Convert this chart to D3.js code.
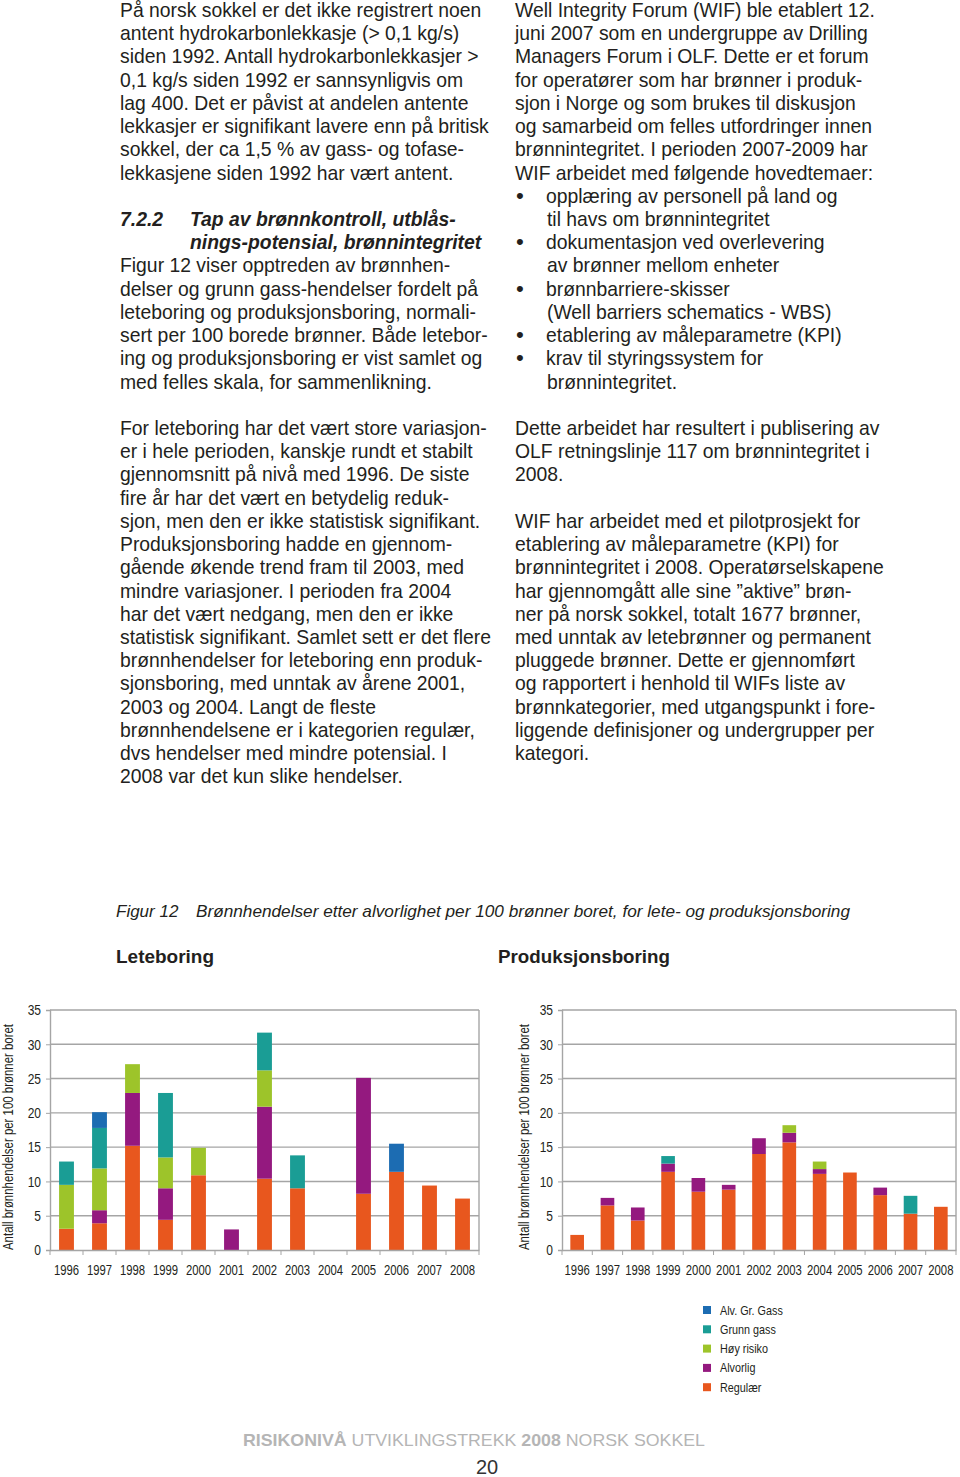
<!DOCTYPE html>
<html><head><meta charset="utf-8">
<script src="https://cdn.jsdelivr.net/npm/d3@7"></script>
<style>body{margin:0;background:#fff}svg{display:block}</style>
</head><body><svg id="page" width="960" height="1477"></svg>
<script>
// ---------------- DATA ----------------
const years = ["1996","1997","1998","1999","2000","2001","2002","2003","2004","2005","2006","2007","2008"];
const seriesNames = ["Regulær","Alvorlig","Høy risiko","Grunn gass","Alv. Gr. Gass"]; // stacking order bottom->top
const legendOrder = ["Alv. Gr. Gass","Grunn gass","Høy risiko","Alvorlig","Regulær"];
const seriesColors = ["#e8571e","#94197f","#9dc42a","#1a9d95","#1c6cb2"];
const yTicks = [0,5,10,15,20,25,30,35];

// Leteboring
const leteRegulaer   = [3.1,3.9,15.2,4.4,10.9,0,10.4,9.0,0,8.2,11.4,9.4,7.5];
const leteAlvorlig   = [0,1.9,7.7,4.6,0,3.0,10.5,0,0,16.9,0,0,0];
const leteHoyRisiko  = [6.4,6.1,4.2,4.5,4.0,0,5.3,0,0,0,0,0,0];
const leteGrunnGass  = [3.4,5.9,0,9.4,0,0,5.5,4.8,0,0,0,0,0];
const leteAlvGrGass  = [0,2.3,0,0,0,0,0,0,0,0,4.1,0,0];
// Produksjonsboring
const prodRegulaer   = [2.2,6.5,4.3,11.4,8.5,8.8,14.0,15.7,11.1,11.3,8.0,5.3,6.3];
const prodAlvorlig   = [0,1.1,1.9,1.2,2.0,0.7,2.3,1.4,0.7,0,1.1,0,0];
const prodHoyRisiko  = [0,0,0,0,0,0,0,1.1,1.1,0,0,0,0];
const prodGrunnGass  = [0,0,0,1.1,0,0,0,0,0,0,0,2.6,0];
const prodAlvGrGass  = [0,0,0,0,0,0,0,0,0,0,0,0,0];

const yTitle = "Antall brønnhendelser per 100 brønner boret";
const captionNum = "Figur 12";
const captionText = "Brønnhendelser etter alvorlighet per 100 brønner boret, for lete- og produksjonsboring";
const chartTitles = ["Leteboring","Produksjonsboring"];

const leftColumn = [
 "På norsk sokkel er det ikke registrert noen",
 "antent hydrokarbonlekkasje (> 0,1 kg/s)",
 "siden 1992. Antall hydrokarbonlekkasjer >",
 "0,1 kg/s siden 1992 er sannsynligvis om",
 "lag 400. Det er påvist at andelen antente",
 "lekkasjer er signifikant lavere enn på britisk",
 "sokkel, der ca 1,5 % av gass- og tofase-",
 "lekkasjene siden 1992 har vært antent.",
 "",
 "#7.2.2|Tap av brønnkontroll, utblås-",
 "#|nings-potensial, brønnintegritet",
 "Figur 12 viser opptreden av brønnhen-",
 "delser og grunn gass-hendelser fordelt på",
 "leteboring og produksjonsboring, normali-",
 "sert per 100 borede brønner. Både letebor-",
 "ing og produksjonsboring er vist samlet og",
 "med felles skala, for sammenlikning.",
 "",
 "For leteboring har det vært store variasjon-",
 "er i hele perioden, kanskje rundt et stabilt",
 "gjennomsnitt på nivå med 1996. De siste",
 "fire år har det vært en betydelig reduk-",
 "sjon, men den er ikke statistisk signifikant.",
 "Produksjonsboring hadde en gjennom-",
 "gående økende trend fram til 2003, med",
 "mindre variasjoner. I perioden fra 2004",
 "har det vært nedgang, men den er ikke",
 "statistisk signifikant. Samlet sett er det flere",
 "brønnhendelser for leteboring enn produk-",
 "sjonsboring, med unntak av årene 2001,",
 "2003 og 2004. Langt de fleste",
 "brønnhendelsene er i kategorien regulær,",
 "dvs hendelser med mindre potensial. I",
 "2008 var det kun slike hendelser."
];
const rightColumn = [
 "Well Integrity Forum (WIF) ble etablert 12.",
 "juni 2007 som en undergruppe av Drilling",
 "Managers Forum i OLF. Dette er et forum",
 "for operatører som har brønner i produk-",
 "sjon i Norge og som brukes til diskusjon",
 "og samarbeid om felles utfordringer innen",
 "brønnintegritet. I perioden 2007-2009 har",
 "WIF arbeidet med følgende hovedtemaer:",
 "•opplæring av personell på land og",
 ">til havs om brønnintegritet",
 "•dokumentasjon ved overlevering",
 ">av brønner mellom enheter",
 "•brønnbarriere-skisser",
 ">(Well barriers schematics - WBS)",
 "•etablering av måleparametre (KPI)",
 "•krav til styringssystem for",
 ">brønnintegritet.",
 "",
 "Dette arbeidet har resultert i publisering av",
 "OLF retningslinje 117 om brønnintegritet i",
 "2008.",
 "",
 "WIF har arbeidet med et pilotprosjekt for",
 "etablering av måleparametre (KPI) for",
 "brønnintegritet i 2008. Operatørselskapene",
 "har gjennomgått alle sine ”aktive” brøn-",
 "ner på norsk sokkel, totalt 1677 brønner,",
 "med unntak av letebrønner og permanent",
 "pluggede brønner. Dette er gjennomført",
 "og rapportert i henhold til WIFs liste av",
 "brønnkategorier, med utgangspunkt i fore-",
 "liggende definisjoner og undergrupper per",
 "kategori."
];
const footerParts = [["RISIKONIVÅ ",700],["UTVIKLINGSTREKK ",400],["2008 ",700],["NORSK SOKKEL",400]];
const pageNumber = "20";

// ---------------- DRAWING ----------------
const svg = d3.select("#page");
svg.append("rect").attr("width",960).attr("height",1477).attr("fill","#fff");
const bodyFont = "'Liberation Sans', Arial, sans-serif";
const chartFont = "'Liberation Sans', Arial, sans-serif";
const ink = "#231f20";
const condenseFactor = 0.8;
function condense(sel, factor){
  sel.each(function(){
    const w = this.getComputedTextLength();
    d3.select(this).attr("textLength", w*factor).attr("lengthAdjust","spacingAndGlyphs");
  });
}

// fit body font size to a reference line width
const probe = svg.append("text").attr("font-family",bodyFont).attr("font-size",100).text(leftColumn[5]);
const probeW = probe.node().getComputedTextLength();
probe.remove();
const bodySize = 100*369/probeW;
const lineY = i => 17 + 23.22*i;

function drawColumn(lines, x0) {
  const g = svg.append("g").attr("font-family",bodyFont).attr("font-size",bodySize).attr("fill",ink);
  lines.forEach((ln,i)=>{
    if(!ln) return;
    const y = lineY(i);
    if(ln[0]==="#"){
      const [num,txt] = ln.slice(1).split("|");
      if(num) g.append("text").attr("x",x0).attr("y",y).attr("font-weight",700).attr("font-style","italic").text(num);
      g.append("text").attr("x",x0+70).attr("y",y).attr("font-weight",700).attr("font-style","italic").text(txt);
    } else if(ln[0]==="•"){
      g.append("text").attr("x",x0+1).attr("y",y).attr("font-size",bodySize*1.15).text("•");
      g.append("text").attr("x",x0+31).attr("y",y).text(ln.slice(1));
    } else if(ln[0]===">"){
      g.append("text").attr("x",x0+32).attr("y",y).text(ln.slice(1));
    } else {
      g.append("text").attr("x",x0).attr("y",y).text(ln);
    }
  });
}
drawColumn(leftColumn,120);
drawColumn(rightColumn,515);

// caption + titles
svg.append("text").attr("x",116).attr("y",917).attr("font-family",bodyFont).attr("font-style","italic")
  .attr("font-size",17).attr("fill",ink).text(captionNum);
svg.append("text").attr("x",196).attr("y",917).attr("font-family",bodyFont).attr("font-style","italic")
  .attr("font-size",17).attr("fill",ink).attr("textLength",654).attr("lengthAdjust","spacingAndGlyphs").text(captionText);
svg.append("text").attr("x",116).attr("y",963).attr("font-family",bodyFont).attr("font-weight",700)
  .attr("font-size",19).attr("fill",ink).attr("textLength",98).attr("lengthAdjust","spacingAndGlyphs").text(chartTitles[0]);
svg.append("text").attr("x",498).attr("y",963).attr("font-family",bodyFont).attr("font-weight",700)
  .attr("font-size",19).attr("fill",ink).attr("textLength",172).attr("lengthAdjust","spacingAndGlyphs").text(chartTitles[1]);

function drawChart(cols, xr, titleX){
  const data = years.map((yr,i)=>{
    const o={year:yr}; seriesNames.forEach((s,k)=>o[s]=cols[k][i]); return o;});
  const stack = d3.stack().keys(seriesNames)(data);
  const x = d3.scaleBand().domain(years).range(xr).paddingInner(0.55).paddingOuter(0.275);
  const y = d3.scaleLinear().domain([0,35]).range([1250,1010]);
  const g = svg.append("g");
  const grid="#a5a5a5";
  g.selectAll("line.grid").data(yTicks.filter(t=>t>0)).join("line")
    .attr("x1",xr[0]).attr("x2",xr[1]).attr("y1",d=>y(d)).attr("y2",d=>y(d))
    .attr("stroke",grid).attr("stroke-width",1.4);
  g.append("line").attr("x1",xr[1]).attr("x2",xr[1]).attr("y1",y(35)).attr("y2",y(0)).attr("stroke",grid).attr("stroke-width",1.4);
  stack.forEach((layer,k)=>{
    g.selectAll(null).data(layer.filter(d=>d[1]-d[0]>0)).join("rect")
      .attr("x",d=>x(d.data.year)).attr("width",x.bandwidth())
      .attr("y",d=>y(d[1])).attr("height",d=>y(d[0])-y(d[1]))
      .attr("fill",seriesColors[k]);
  });
  const ya = g.append("g").attr("transform",`translate(${xr[0]},0)`)
    .call(d3.axisLeft(y).tickValues(yTicks).tickSize(4).tickPadding(5));
  ya.select(".domain").attr("stroke",grid).attr("stroke-width",1.4);
  ya.selectAll(".tick line").attr("stroke",grid);
  ya.selectAll("text").attr("font-family",chartFont).attr("font-size",15).attr("fill",ink).call(condense,condenseFactor);
  const xa = g.append("g").attr("transform","translate(0,1250)")
    .call(d3.axisBottom(x).tickSize(0).tickPadding(15));
  xa.select(".domain").attr("stroke",grid).attr("stroke-width",1.4);
  xa.selectAll("text").attr("font-family",chartFont).attr("font-size",14.5).attr("fill",ink).call(condense,0.78);
  const bounds = years.map(yr=>x(yr)-x.step()*x.paddingInner()/2).concat([xr[1]]);
  g.selectAll(null).data(bounds).join("line")
    .attr("x1",d=>d).attr("x2",d=>d).attr("y1",1250).attr("y2",1255).attr("stroke",grid);
  g.append("text").attr("transform",`translate(${titleX},1137) rotate(-90)`).attr("text-anchor","middle")
    .attr("font-family",chartFont).attr("font-size",15).attr("fill",ink)
    .attr("textLength",226).attr("lengthAdjust","spacingAndGlyphs").text(yTitle);
}
drawChart([leteRegulaer,leteAlvorlig,leteHoyRisiko,leteGrunnGass,leteAlvGrGass],[50,479],13);
drawChart([prodRegulaer,prodAlvorlig,prodHoyRisiko,prodGrunnGass,prodAlvGrGass],[562,956],529);

// legend
const lg = svg.append("g");
legendOrder.forEach((name,i)=>{
  const k = seriesNames.indexOf(name);
  const cy = 1310 + i*19.3;
  lg.append("rect").attr("x",703).attr("y",cy-4).attr("width",8).attr("height",8).attr("fill",seriesColors[k]);
  lg.append("text").attr("x",720).attr("y",cy+4.5).attr("font-family",chartFont).attr("font-size",13.5).attr("fill",ink)
    .text(name).call(condense,condenseFactor);
});

// footer
const ft = svg.append("text").attr("x",243).attr("y",1446).attr("font-family",bodyFont).attr("font-size",17)
  .attr("fill","#b5b5b5").attr("textLength",462).attr("lengthAdjust","spacingAndGlyphs");
footerParts.forEach(([t,w])=>ft.append("tspan").attr("font-weight",w).text(t));
svg.append("text").attr("x",487).attr("y",1474).attr("text-anchor","middle").attr("font-family",bodyFont)
  .attr("font-size",20).attr("fill","#333").text(pageNumber);
</script></body></html>
